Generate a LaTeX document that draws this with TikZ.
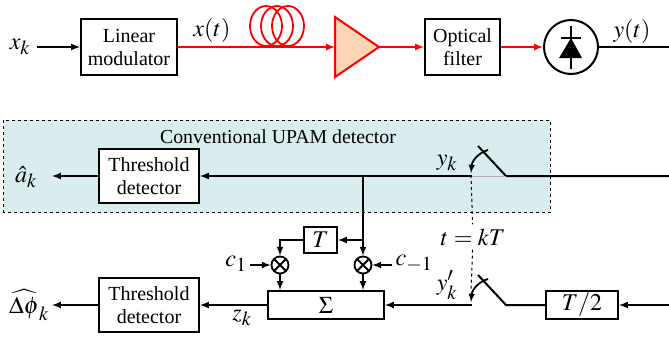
\documentclass[tikz,border=0pt]{standalone}
\usepackage{mathptmx}
\usepackage[no-math]{fontspec}
\setmainfont{Liberation Serif}
\usepackage{tikz}
\DeclareMathSizes{24}{24}{20}{16}
\definecolor{upamfill}{HTML}{D9ECEE}
\definecolor{ampfill}{HTML}{FBD5B5}
\tikzstyle{wire}=[line width=2pt]
\tikzstyle{sig}=[line width=2pt,-latex]
\tikzstyle{opt}=[line width=2pt,red,-latex]
\tikzstyle{block}=[rectangle,line width=2pt,draw,fill=white,inner sep=0pt,align=center,font=\fontsize{20}{23}\selectfont]
\tikzstyle{lbl}=[inner sep=0pt,font=\fontsize{24}{26}\selectfont]
\tikzstyle{mixer}=[circle,line width=1.8pt,draw,fill=white,inner sep=0pt,minimum size=17pt,
	path picture={\draw[line width=1.8pt] (path picture bounding box.south west) -- (path picture bounding box.north east)
	(path picture bounding box.north west) -- (path picture bounding box.south east);}]
\begin{document}
\begin{tikzpicture}[x=1pt,y=-1pt]
				\useasboundingbox (0,0) rectangle (669,340);
				
				%The optical link
				\draw (129,47) node[block,minimum width=96pt,minimum height=56pt] (mod) {Linear\\modulator};
				\draw (462.5,47) node[block,minimum width=75pt,minimum height=56pt] (filt) {Optical\\filter};
				\draw (571,47) node[circle,line width=2pt,draw,fill=white,minimum size=54pt] (pd) {};
				\draw (20,47) node[lbl] (xk) {$x_k$};
				\draw (212,30) node[lbl] (xt) {$x(t)$};
				\draw (632,31) node[lbl] (yt) {$y(t)$};
				\coordinate (xin) at (37,47);
				\coordinate (ampin) at (335,47);
				\coordinate (ampout) at (379,47);
				\coordinate (yout) at (669,47);
				
				\draw[line width=1.8pt,red] (266,26) ellipse [x radius=16,y radius=20];
				\draw[line width=1.8pt,red] (277,26) ellipse [x radius=16,y radius=20];
				\draw[line width=1.8pt,red] (288,26) ellipse [x radius=16,y radius=20];
				\draw[line width=2pt,red,fill=ampfill,line join=miter] (335,17) -- (ampout) -- (335,77) -- cycle;
				
				\draw[line width=1.8pt] (571,26) -- (571,69);
				\draw[line width=1.8pt] (561,38) -- (581,38);
				\fill (571,38) -- (582,58) -- (559,58) -- cycle;
				
				\draw[sig] (xin) -- (mod);
				\draw[opt] (mod) -- (ampin);
				\draw[opt] (ampout) -- (filt);
				\draw[opt] (filt) -- (pd);
				\draw[wire] (pd) -- (yout);
				
				%The UPAM detector
				\draw[dashed,thick,fill=upamfill] (3.5,120) rectangle (550,212);
				\draw (278,137) node[font=\fontsize{19.8}{22}\selectfont,inner sep=0pt] (upam) {Conventional UPAM detector};
				\draw (149,176) node[block,minimum width=100pt,minimum height=54pt] (det1) {Threshold\\detector};
				\draw (26,177) node[lbl] (ahat) {$\hat{a}_k$};
				\draw (447,163) node[lbl] (yk) {$y_k$};
				\coordinate (aout) at (52,176);
				\coordinate (sw1l) at (472,176);
				\coordinate (sw1r) at (506,176);
				\coordinate (sw1t) at (478,146);
				\coordinate (yin) at (669,176);
				\coordinate (tap) at (363,176);
				
				\draw[sig] (sw1l) -- (det1);
				\draw[sig] (det1) -- (aout);
				\draw[wire] (sw1t) -- (sw1r) -- (yin);
				\draw[draw=black!30,thin] (sw1l) -- (sw1r);
				\draw[line width=1.8pt,-latex] (488,150) .. controls (478,153) and (472,161) .. (471,173);
				
				%The sampling instant
				\draw (473,237) node[lbl,fill=white,inner xsep=1pt,inner ysep=4pt] (samp) {$t=kT$};
				\coordinate (dash1) at (471,175);
				\coordinate (dash2) at (471,292);
				
				%The second detector
				\draw (149,305) node[block,minimum width=100pt,minimum height=54pt] (det2) {Threshold\\detector};
				\draw (326,305) node[block,minimum width=116pt,minimum height=28pt,font=\fontsize{24}{26}\selectfont] (sum) {$\Sigma$};
				\draw (582,305) node[block,minimum width=72pt,minimum height=28pt,font=\fontsize{24}{26}\selectfont] (half) {$T/2$};
				\draw (320.5,240) node[block,minimum width=33pt,minimum height=26pt,font=\fontsize{24}{26}\selectfont] (delay) {$T$};
				\draw (280,265) node[mixer] (m1) {};
				\draw (363,265) node[mixer] (m2) {};
				\draw (29,305) node[lbl] (dphi) {$\widehat{\Delta\phi}_k$};
				\draw (236,264) node[lbl] (c1) {$c_1$};
				\draw (414,264) node[lbl] (c2) {$c_{-1}$};
				\draw (242,318) node[lbl] (zk) {$z_k$};
				\draw (447,285) node[lbl] (ykp) {$y_k'$};
				\coordinate (dout) at (52,305);
				\coordinate (sw2l) at (472,305);
				\coordinate (sw2r) at (506,305);
				\coordinate (sw2t) at (478,275);
				\coordinate (hin) at (669,305);
				\coordinate (c1in) at (250,265);
				\coordinate (c2in) at (392,265);
				\coordinate (dtap) at (363,240);
				
				\draw[wire] (tap) -- (dtap);
				\draw[sig] (dtap) -- (m2);
				\draw[sig] (dtap) -- (delay);
				\draw[sig] (delay) -| (m1);
				\draw[sig] (c1in) -- (m1);
				\draw[sig] (c2in) -- (m2);
				\draw[sig] (m1) -- (m1 |- sum.north);
				\draw[sig] (m2) -- (m2 |- sum.north);
				\draw[sig] (sum) -- (det2);
				\draw[sig] (det2) -- (dout);
				\draw[sig] (sw2l) -- (sum);
				\draw[wire] (sw2t) -- (sw2r) -- (half);
				\draw[sig] (hin) -- (half);
				\draw[line width=1.8pt,-latex] (488,279) .. controls (478,282) and (472,290) .. (471,302);
				
				\draw[dashed,line width=1pt] (dash1) -- (samp);
				\draw[dashed,line width=1pt] (samp) -- (dash2);
			\end{tikzpicture}
\end{document}
